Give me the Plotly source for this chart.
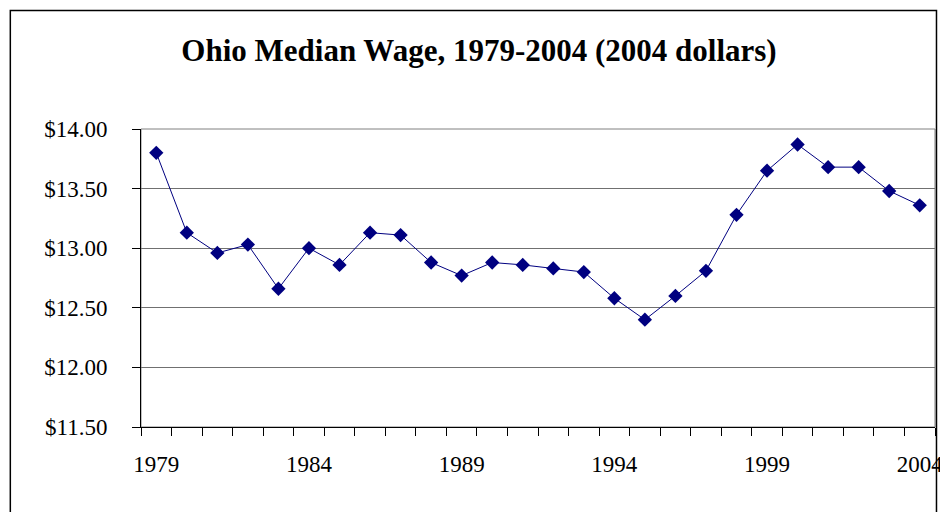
import plotly.graph_objects as go

years = list(range(1979, 2005))
wages = [13.80, 13.13, 12.96, 13.03, 12.66, 13.00, 12.86, 13.13, 13.11, 12.88,
         12.77, 12.88, 12.86, 12.83, 12.80, 12.58, 12.40, 12.60, 12.81, 13.28,
         13.65, 13.87, 13.68, 13.68, 13.48, 13.36]
label_years = [1979, 1984, 1989, 1994, 1999, 2004]
y_ticks = [11.5, 12.0, 12.5, 13.0, 13.5, 14.0]

FONT = "Liberation Serif"

fig = go.Figure()
fig.add_trace(go.Scatter(
    x=years, y=wages, mode="lines+markers",
    line=dict(color="#000080", width=1),
    marker=dict(symbol="diamond", size=11, color="#000080"),
    showlegend=False, hoverinfo="x+y"
))

# page body has an 8px margin, so the figure is shifted by 8px
W, H = 940, 504
L, R, T, B = 133, 5, 121, 85
pw, ph = W - L - R, H - T - B

def px_x(p):
    return (p - L) / pw

def px_y(p):
    return (H - B - p) / ph

fig.update_layout(
    width=W, height=H,
    margin=dict(l=L, r=R, t=T, b=B),
    paper_bgcolor="white", plot_bgcolor="white",
    font=dict(family=FONT, size=23, color="black"),
    title=dict(text="<b>Ohio Median Wage, 1979-2004 (2004 dollars)</b>",
               x=471 / W, xanchor="center", y=1 - 42 / H, yanchor="middle",
               font=dict(family=FONT, size=31, color="black")),
    xaxis=dict(
        range=[years[0] - 0.5, years[-1] + 0.5],
        tickmode="array", tickvals=label_years, ticktext=[str(v) for v in label_years],
        ticks="", showgrid=False, zeroline=False,
        showline=True, linecolor="black", linewidth=1,
        ticklabelstandoff=16, ticklabeloverflow="allow",
        minor=dict(ticks="outside", tick0=years[0] - 0.5, dtick=1, ticklen=8,
                   tickcolor="black", tickwidth=1, showgrid=False),
        fixedrange=True,
    ),
    yaxis=dict(
        range=[y_ticks[0], y_ticks[-1]],
        tickmode="array", tickvals=y_ticks, tickformat="$.2f",
        ticks="outside", ticklen=8, tickcolor="black",
        showgrid=True, gridcolor="#707070", gridwidth=1,
        zeroline=False, showline=True, linecolor="black", linewidth=1,
        ticklabelstandoff=20,
        fixedrange=True,
    ),
    shapes=[
        dict(type="rect", xref="paper", yref="paper", x0=0, x1=1, y0=0, y1=1,
             line=dict(color="#808080", width=1), layer="below"),
        dict(type="rect", xref="paper", yref="paper",
             x0=px_x(1), x1=px_x(936.5), y0=px_y(530), y1=px_y(2.5),
             line=dict(color="black", width=1.5), layer="below"),
    ],
)

fig.write_html("out.html")
